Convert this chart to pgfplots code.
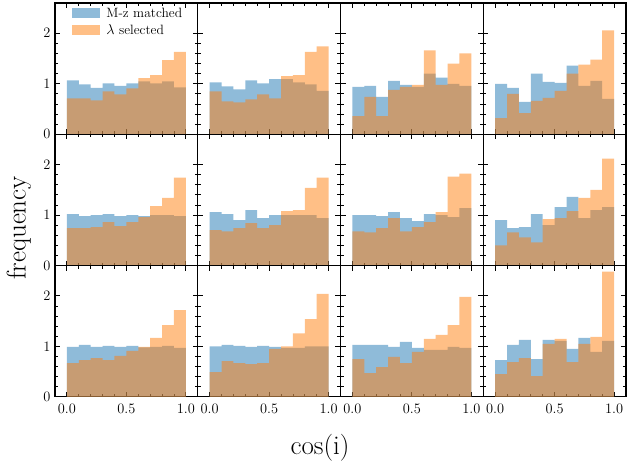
\documentclass[border=0pt]{standalone}
\usepackage{pgfplots}
\pgfplotsset{compat=1.18}
\usepackage{pgfplotstable}
\usepgfplotslibrary{groupplots}
\usetikzlibrary{calc}
\definecolor{tabblue}{HTML}{1F77B4}
\definecolor{taborange}{HTML}{FF7F0E}

% bin left edge, M-z matched (b), lambda selected (o); last row closes the interval
\pgfplotstableread{
x b o
0.0 1.07 0.71
0.1 0.99 0.71
0.2 0.92 0.67
0.3 1.01 0.85
0.4 0.96 0.79
0.5 1.01 0.91
0.6 1.05 1.11
0.7 1.01 1.17
0.8 1.05 1.47
0.9 0.93 1.63
1.0 0.93 1.63
}\pA
\pgfplotstableread{
x b o
0.0 1.03 0.85
0.1 0.95 0.65
0.2 0.89 0.63
0.3 1.07 0.69
0.4 1.01 0.79
0.5 1.09 0.71
0.6 1.09 1.15
0.7 1.03 1.17
0.8 0.99 1.63
0.9 0.86 1.74
1.0 0.86 1.74
}\pB
\pgfplotstableread{
x b o
0.0 0.94 0.36
0.1 0.96 0.74
0.2 0.74 0.36
0.3 1.06 0.88
0.4 0.98 0.94
0.5 0.94 0.98
0.6 1.20 1.66
0.7 1.12 0.98
0.8 1.00 1.40
0.9 0.96 1.60
1.0 0.96 1.60
}\pC
\pgfplotstableread{
x b o
0.0 1.00 0.32
0.1 0.92 0.80
0.2 0.64 0.42
0.3 1.20 0.66
0.4 1.04 0.72
0.5 1.02 0.86
0.6 1.36 1.20
0.7 0.96 1.38
0.8 1.06 1.48
0.9 0.70 2.06
1.0 0.70 2.06
}\pD
\pgfplotstableread{
x b o
0.0 1.02 0.74
0.1 0.98 0.74
0.2 1.00 0.76
0.3 1.02 0.86
0.4 0.98 0.78
0.5 1.00 0.86
0.6 0.98 0.96
0.7 1.00 1.18
0.8 1.00 1.34
0.9 0.98 1.74
1.0 0.98 1.74
}\pE
\pgfplotstableread{
x b o
0.0 1.06 0.70
0.1 1.02 0.68
0.2 0.90 0.74
0.3 1.10 0.84
0.4 0.94 0.74
0.5 1.00 0.80
0.6 1.00 1.08
0.7 1.00 1.10
0.8 1.00 1.54
0.9 0.94 1.74
1.0 0.94 1.74
}\pF
\pgfplotstableread{
x b o
0.0 1.00 0.68
0.1 1.00 0.66
0.2 0.98 0.74
0.3 1.06 0.94
0.4 0.94 0.68
0.5 0.88 0.76
0.6 1.02 0.86
0.7 1.00 1.06
0.8 0.96 1.76
0.9 1.14 1.82
1.0 1.14 1.82
}\pG
\pgfplotstableread{
x b o
0.0 0.90 0.40
0.1 0.74 0.66
0.2 0.76 0.56
0.3 1.02 0.46
0.4 0.80 0.92
0.5 1.16 0.94
0.6 1.36 1.08
0.7 0.94 1.34
0.8 1.10 1.50
0.9 1.16 2.12
1.0 1.16 2.12
}\pH
\pgfplotstableread{
x b o
0.0 0.99 0.67
0.1 1.03 0.73
0.2 0.99 0.77
0.3 1.01 0.73
0.4 0.99 0.81
0.5 1.01 0.91
0.6 0.98 0.99
0.7 0.99 1.17
0.8 1.01 1.42
0.9 0.97 1.72
1.0 0.97 1.72
}\pI
\pgfplotstableread{
x b o
0.0 1.00 0.49
0.1 1.03 0.71
0.2 1.01 0.67
0.3 0.99 0.65
0.4 1.01 0.67
0.5 0.99 0.95
0.6 0.97 1.00
0.7 0.97 1.26
0.8 1.00 1.54
0.9 1.00 2.04
1.0 1.00 2.04
}\pJ
\pgfplotstableread{
x b o
0.0 1.03 0.75
0.1 1.03 0.47
0.2 1.03 0.59
0.3 0.99 0.79
0.4 1.09 0.67
0.5 0.97 0.89
0.6 0.93 1.15
0.7 0.93 1.23
0.8 0.99 1.42
0.9 0.97 1.98
1.0 0.97 1.98
}\pK
\pgfplotstableread{
x b o
0.0 0.73 0.45
0.1 1.03 0.69
0.2 1.13 0.77
0.3 0.75 0.41
0.4 1.13 1.05
0.5 1.11 1.15
0.6 0.95 0.69
0.7 1.17 1.05
0.8 0.89 1.19
0.9 1.11 2.48
1.0 1.11 2.48
}\pL

\pgfplotsset{
  bluebar/.style={ybar interval, draw=none, fill=tabblue, fill opacity=0.5},
  orangebar/.style={ybar interval, draw=none, fill=taborange, fill opacity=0.5},
  patchlegend/.style={legend image code/.code={\fill[##1] (0pt,-5pt) rectangle (28pt,5pt);}},
}
\newcommand{\hpair}[1]{%
  \addplot[bluebar] table[x=x,y=b]{#1};
  \addplot[orangebar] table[x=x,y=o]{#1};
}

\begin{document}
\begin{tikzpicture}
\begin{groupplot}[
  group style={group name=G, group size=4 by 3,
    horizontal sep=0pt, vertical sep=0pt,
    xticklabels at=edge bottom, yticklabels at=edge left},
  width=142.75pt, height=131.3pt, scale only axis,
  xmin=-0.1, xmax=1.1, ymin=0, ymax=2.6,
  xtick={0,0.5,1}, ytick={0,1,2},
  minor x tick num=4, minor y tick num=4,
  tick align=inside,
  major tick length=5pt, minor tick length=3pt,
  tick style={black, line width=0.8pt},
  axis line style={line width=1.2pt},
  tick label style={font=\fontsize{13.5}{14}\selectfont},
  x tick label style={yshift=-4pt, /pgf/number format/.cd, fixed, fixed zerofill, precision=1, /tikz/.cd},
  y tick label style={xshift=-1pt, /pgf/number format/.cd, fixed, precision=0, /tikz/.cd},
]
\nextgroupplot[
  legend style={draw=none, fill=none, at={(rel axis cs:0.1,0.995)}, anchor=north west,
    font=\fontsize{13.5}{15}\selectfont, row sep=2pt,
    nodes={inner xsep=6pt}},
  legend cell align=left,
]
\addlegendimage{patchlegend, draw=none, fill=tabblue, fill opacity=0.5}
\addlegendimage{patchlegend, draw=none, fill=taborange, fill opacity=0.5}
\legend{M-z matched, $\lambda$ selected}
\hpair{\pA}
\nextgroupplot
\hpair{\pB}
\nextgroupplot
\hpair{\pC}
\nextgroupplot
\hpair{\pD}
\nextgroupplot
\hpair{\pE}
\nextgroupplot
\hpair{\pF}
\nextgroupplot
\hpair{\pG}
\nextgroupplot
\hpair{\pH}
\nextgroupplot
\hpair{\pI}
\nextgroupplot
\hpair{\pJ}
\nextgroupplot
\hpair{\pK}
\nextgroupplot
\hpair{\pL}
\end{groupplot}
\coordinate (O) at (G c1r1.north west);
\node[rotate=90, font=\fontsize{27}{30}\selectfont] at ($(O)+(-36pt,-225pt)$) {frequency};
\node[font=\fontsize{27}{30}\selectfont] at ($(O)+(265pt,-445pt)$) {cos(i)};
\path ($(O)+(-55pt,3pt)$) rectangle ($(O)+(572pt,-470pt)$);
\end{tikzpicture}
\end{document}
